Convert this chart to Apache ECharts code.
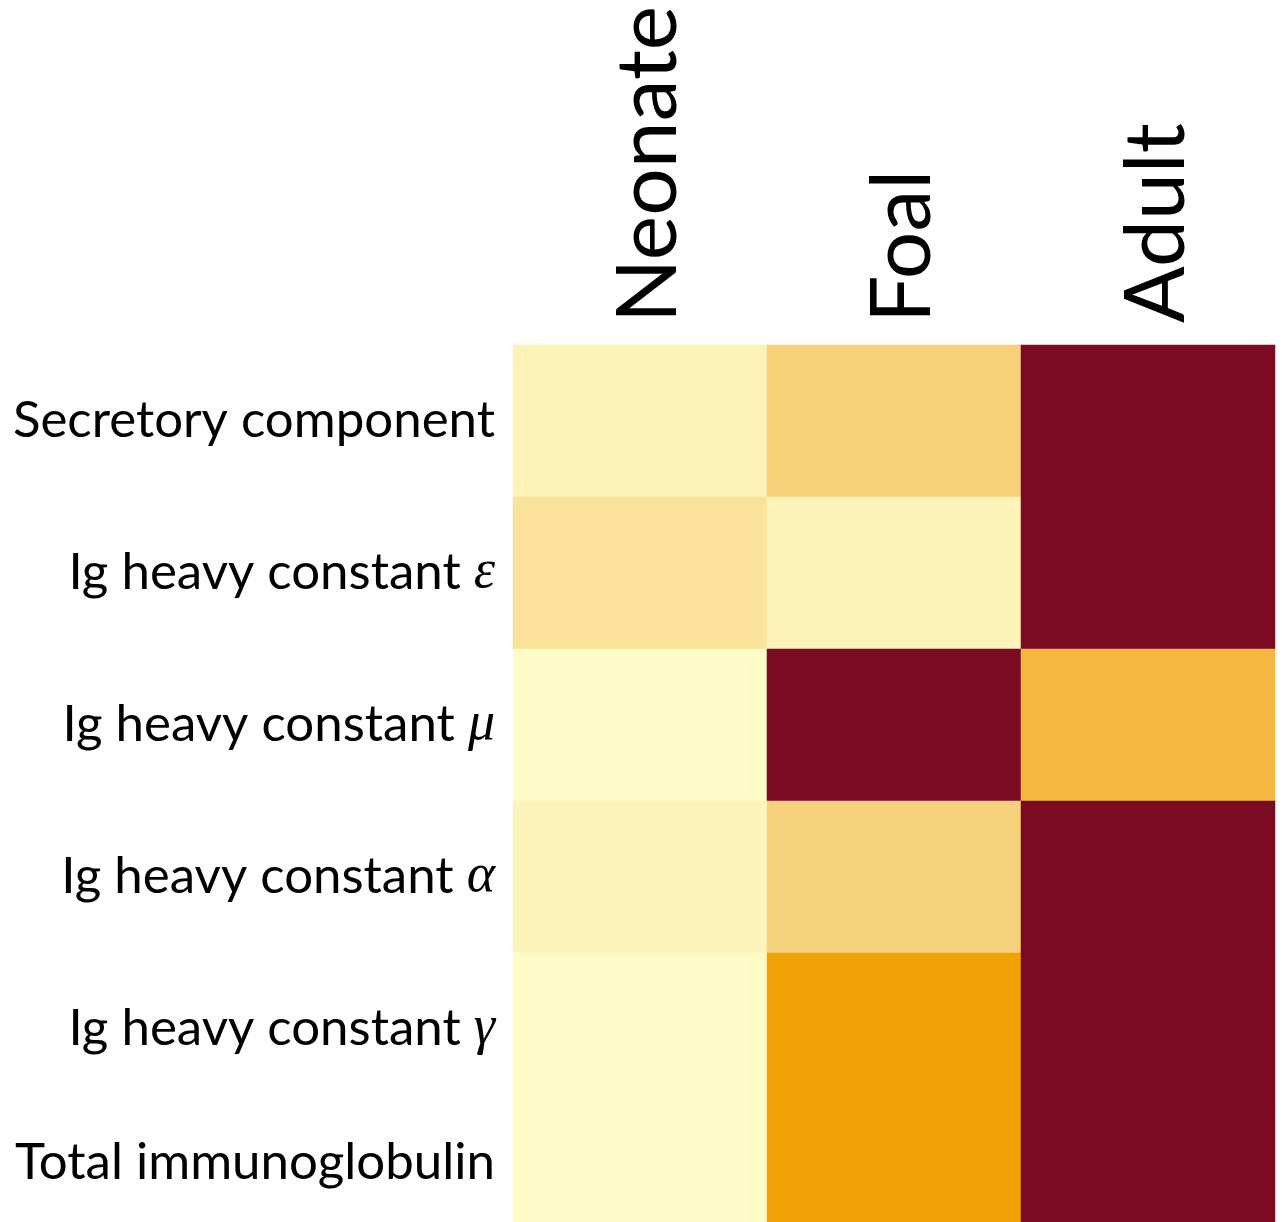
<!DOCTYPE html>
<html>
<head>
    <meta charset="utf-8">
    <title>Immunoglobulin heatmap</title>
    <script src="https://cdn.jsdelivr.net/npm/echarts@6/dist/echarts.min.js"></script>
    <style>
        html, body { margin: 0; padding: 0; background: #fff; }
        #container { width: 1282px; height: 1222px; }
    </style>
</head>
<body>
<div id="container"></div>
<script>
    var groups = ['Neonate', 'Foal', 'Adult'];
    var proteins = ['Secretory component', 'Ig heavy constant ε', 'Ig heavy constant μ',
        'Ig heavy constant α', 'Ig heavy constant γ', 'Total immunoglobulin'];

    // relative abundance per row, one value per group (Neonate, Foal, Adult)
    var secretory = [20, 40, 100];
    var igE = [30, 20, 100];
    var igM = [2, 100, 60];
    var igA = [18, 39, 100];
    var igG = [4, 80, 100];
    var totalIg = [4, 80, 100];

    var rows = [secretory, igE, igM, igA, igG, totalIg];
    var data = [];
    for (var r = 0; r < rows.length; r++) {
        for (var c = 0; c < groups.length; c++) {
            data.push([c, r, rows[r][c]]);
        }
    }

    var yData = proteins.map(function (name, i) {
        // last row is cut by the picture edge, so its label sits a little higher
        if (i == proteins.length - 1) {
            return { value: name, textStyle: { padding: [0, 0, 36, 0] } };
        }
        return name;
    });

    var myChart = echarts.init(document.getElementById('container'));

    var option = {
        animation: false,
        grid: {
            left: 513,
            right: 7,
            top: 345,
            height: 912,
            outerBoundsMode: 'none'
        },
        xAxis: {
            type: 'category',
            position: 'top',
            data: groups,
            axisLine: { show: false },
            axisTick: { show: false },
            splitLine: { show: false },
            axisLabel: {
                rotate: -90,
                margin: 22,
                color: '#000',
                fontFamily: 'Lato',
                fontSize: 84,
                formatter: function (value) {
                    return '{c|' + value + '}';
                },
                rich: {
                    c: { fontFamily: 'Lato', fontSize: 84, color: '#000', padding: [18, 0, 0, 0] }
                }
            }
        },
        yAxis: {
            type: 'category',
            data: yData,
            inverse: true,
            axisLine: { show: false },
            axisTick: { show: false },
            splitLine: { show: false },
            axisLabel: {
                margin: 18,
                color: '#000',
                fontFamily: 'Lato',
                fontSize: 51,
                formatter: function (value) {
                    var m = value.match(/^(.*) ([α-ω])$/);
                    if (m) {
                        return '{t|' + m[1] + ' }{g|' + m[2] + '}';
                    }
                    return '{t|' + value + '}';
                },
                rich: {
                    t: { fontFamily: 'Lato', fontSize: 51, color: '#000' },
                    g: { fontFamily: 'Liberation Serif', fontStyle: 'italic', fontSize: 54, color: '#000' }
                }
            }
        },
        visualMap: {
            show: false,
            min: 0,
            max: 100,
            calculable: false,
            inRange: {
                color: ['#FFFDCA', '#FDF3B9', '#F7D07A', '#F5B73E', '#F3A205', '#7B0B22']
            }
        },
        series: [{
            type: 'heatmap',
            data: data,
            itemStyle: { borderWidth: 0 },
            emphasis: { disabled: true }
        }]
    };

    myChart.setOption(option);
</script>
</body>
</html>
